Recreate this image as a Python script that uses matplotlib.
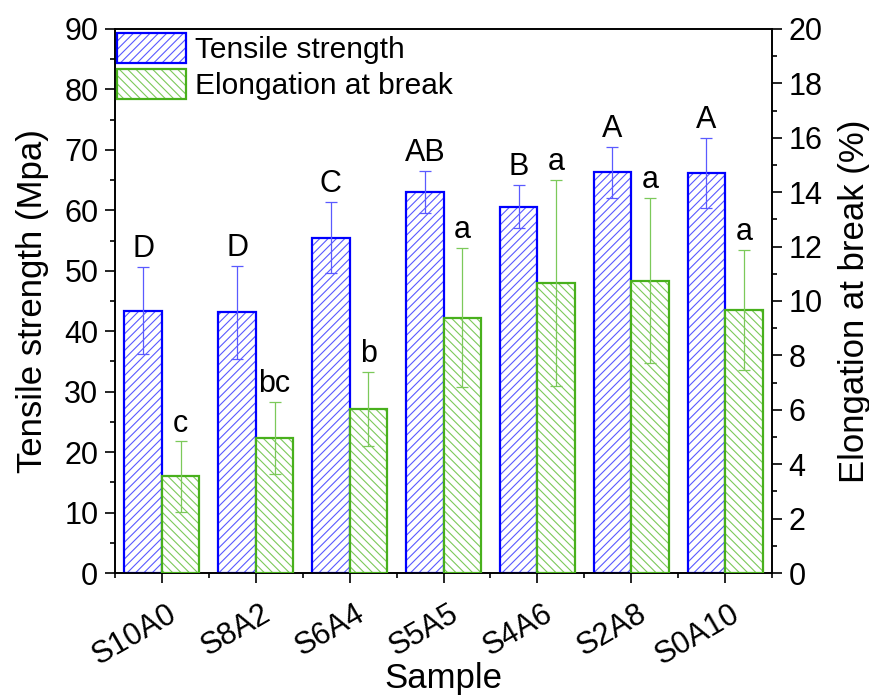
import numpy as np
import matplotlib
matplotlib.use("Agg")
import matplotlib.pyplot as plt
import matplotlib.transforms as mtransforms
from matplotlib.patches import Patch
from matplotlib.legend_handler import HandlerTuple

plt.rcParams['font.family'] = ['Liberation Sans', 'DejaVu Sans']
plt.rcParams['hatch.linewidth'] = 0.8

# data
samples = ["S10A0", "S8A2", "S6A4", "S5A5", "S4A6", "S2A8", "S0A10"]
tensile = [43.4, 43.1, 55.5, 63.0, 60.6, 66.3, 66.2]
tensile_err = [7.2, 7.7, 5.9, 3.5, 3.6, 4.2, 5.8]
tensile_letters = ["D", "D", "C", "AB", "B", "A", "A"]
elong = [3.55, 4.97, 6.02, 9.39, 10.66, 10.75, 9.68]
elong_err = [1.29, 1.33, 1.36, 2.56, 3.8, 3.03, 2.2]
elong_letters = ["c", "bc", "b", "a", "a", "a", "a"]

blue = "#0000ff"
blue_light = "#5a5aff"
green = "#48b01c"
green_light = "#7cc95a"
hatch_b = "////"
hatch_g = "\\\\\\\\"
fs_tick = 22
fs_lab = 25
fs_txt = 22

fig = plt.figure(figsize=(8.7, 6.97), dpi=100)
ax = fig.add_axes([0.1322, 0.1779, 0.7552, 0.7805])
ax2 = ax.twinx()

x = np.arange(len(samples))
w = 0.4

# tensile strength (left axis)
ax.bar(x - w / 2, tensile, w, facecolor="white", edgecolor=blue_light, hatch=hatch_b, lw=0, zorder=2)
ax.bar(x - w / 2, tensile, w, fill=False, edgecolor=blue, lw=1.6, zorder=3)
ax.errorbar(x - w / 2, tensile, yerr=tensile_err, fmt="none", ecolor=blue_light,
            elinewidth=0.9, capsize=4, capthick=0.9, zorder=4)
for xi, v, e, t in zip(x - w / 2, tensile, tensile_err, tensile_letters):
    ax.annotate(t, (xi, v + e), xytext=(0, 2), textcoords="offset points",
                ha="center", va="bottom", fontsize=fs_txt)

# elongation at break (right axis)
ax2.bar(x + w / 2, elong, w, facecolor="white", edgecolor=green_light, hatch=hatch_g, lw=0, zorder=2)
ax2.bar(x + w / 2, elong, w, fill=False, edgecolor=green, lw=1.6, zorder=3)
ax2.errorbar(x + w / 2, elong, yerr=elong_err, fmt="none", ecolor=green_light,
             elinewidth=0.9, capsize=4, capthick=0.9, zorder=4)
for xi, v, e, t in zip(x + w / 2, elong, elong_err, elong_letters):
    ax2.annotate(t, (xi, v + e), xytext=(0, 2), textcoords="offset points",
                 ha="center", va="bottom", fontsize=fs_txt)

ax.set_xlim(-0.5, 6.5)
ax.set_ylim(0, 90)
ax2.set_ylim(0, 20)

ax.set_yticks(np.arange(0, 91, 10))
ax.set_yticks(np.arange(5, 90, 10), minor=True)
ax2.set_yticks(np.arange(0, 21, 2))
ax2.set_yticks(np.arange(1, 20, 2), minor=True)
ax.set_xticks(x)
ax.set_xticks(np.arange(-0.5, 7, 1), minor=True)

for a in (ax, ax2):
    for s in a.spines.values():
        s.set_linewidth(1.2)
    a.tick_params(which="major", direction="out", length=7, width=1.2, labelsize=fs_tick, pad=5)
    a.tick_params(which="minor", direction="out", length=3.5, width=1.2)
ax.tick_params(axis="y", which="both", right=False)
ax2.tick_params(axis="y", which="both", left=False, right=True)

ax.set_xticklabels(samples, rotation=30, ha="right", va="center",
                   rotation_mode="anchor")
ax.tick_params(axis="x", which="major", pad=21)
offset = mtransforms.ScaledTranslation(9 / 72, 0, fig.dpi_scale_trans)
for lab in ax.get_xticklabels():
    lab.set_transform(lab.get_transform() + offset)

ax.set_xlabel("Sample", fontsize=fs_lab, va="baseline")
ax.xaxis.set_label_coords(0.5, -0.211)
ax.set_ylabel("Tensile strength (Mpa)", fontsize=fs_lab, va="center")
ax.yaxis.set_label_coords(-0.1255, 0.5)
ax2.set_ylabel("Elongation at break (%)", fontsize=fs_lab, va="center")
ax2.yaxis.set_label_coords(1.1256, 0.5)

h1 = (Patch(facecolor="white", edgecolor=blue_light, hatch=hatch_b, lw=0),
      Patch(fill=False, edgecolor=blue, lw=1.6))
h2 = (Patch(facecolor="white", edgecolor=green_light, hatch=hatch_g, lw=0),
      Patch(fill=False, edgecolor=green, lw=1.6))
ax2.legend([h1, h2], ["Tensile strength", "Elongation at break"],
           handler_map={tuple: HandlerTuple(ndivide=1, pad=0)},
           loc="upper left", bbox_to_anchor=(-0.004, 1.0), borderaxespad=0,
           borderpad=0.15, frameon=False, fontsize=21.5, handlelength=2.3,
           handleheight=1.15, handletextpad=0.3, labelspacing=0.15)

fig.savefig("out.png", dpi=100)
